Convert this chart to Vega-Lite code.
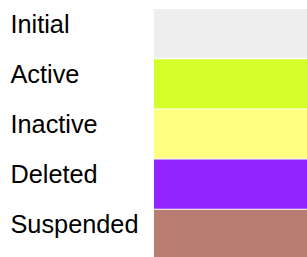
{
  "$schema": "https://vega.github.io/schema/vega-lite/v6.json",
  "width": 153,
  "height": 250,
  "autosize": {"type": "none"},
  "padding": {"left": 154, "top": 9, "right": 0, "bottom": 0},
  "background": "white",
  "config": {"view": {"stroke": null}},
  "data": {"values": [
    {"status": "Initial", "v": 1, "color": "#eeeeee"},
    {"status": "Active", "v": 1, "color": "#d4ff2a"},
    {"status": "Inactive", "v": 1, "color": "#ffff80"},
    {"status": "Deleted", "v": 1, "color": "#9124ff"},
    {"status": "Suspended", "v": 1, "color": "#b97c71"}
  ]},
  "mark": {"type": "bar", "cornerRadius": 0},
  "encoding": {
    "y": {
      "field": "status", "type": "nominal", "sort": null,
      "scale": {"paddingInner": 0.02, "paddingOuter": 0},
      "axis": {
        "title": null, "ticks": false, "domain": false, "labelAlign": "left",
        "labelPadding": 144, "labelFont": "Liberation Sans", "labelFontSize": 25.3,
        "labelColor": "#000000", "labelBaseline": "alphabetic", "labelOffset": -1,
        "labelLimit": 300
      }
    },
    "x": {"field": "v", "type": "quantitative", "scale": {"domain": [0, 1], "nice": false}, "axis": null},
    "color": {"field": "color", "type": "nominal", "scale": null, "legend": null}
  }
}
